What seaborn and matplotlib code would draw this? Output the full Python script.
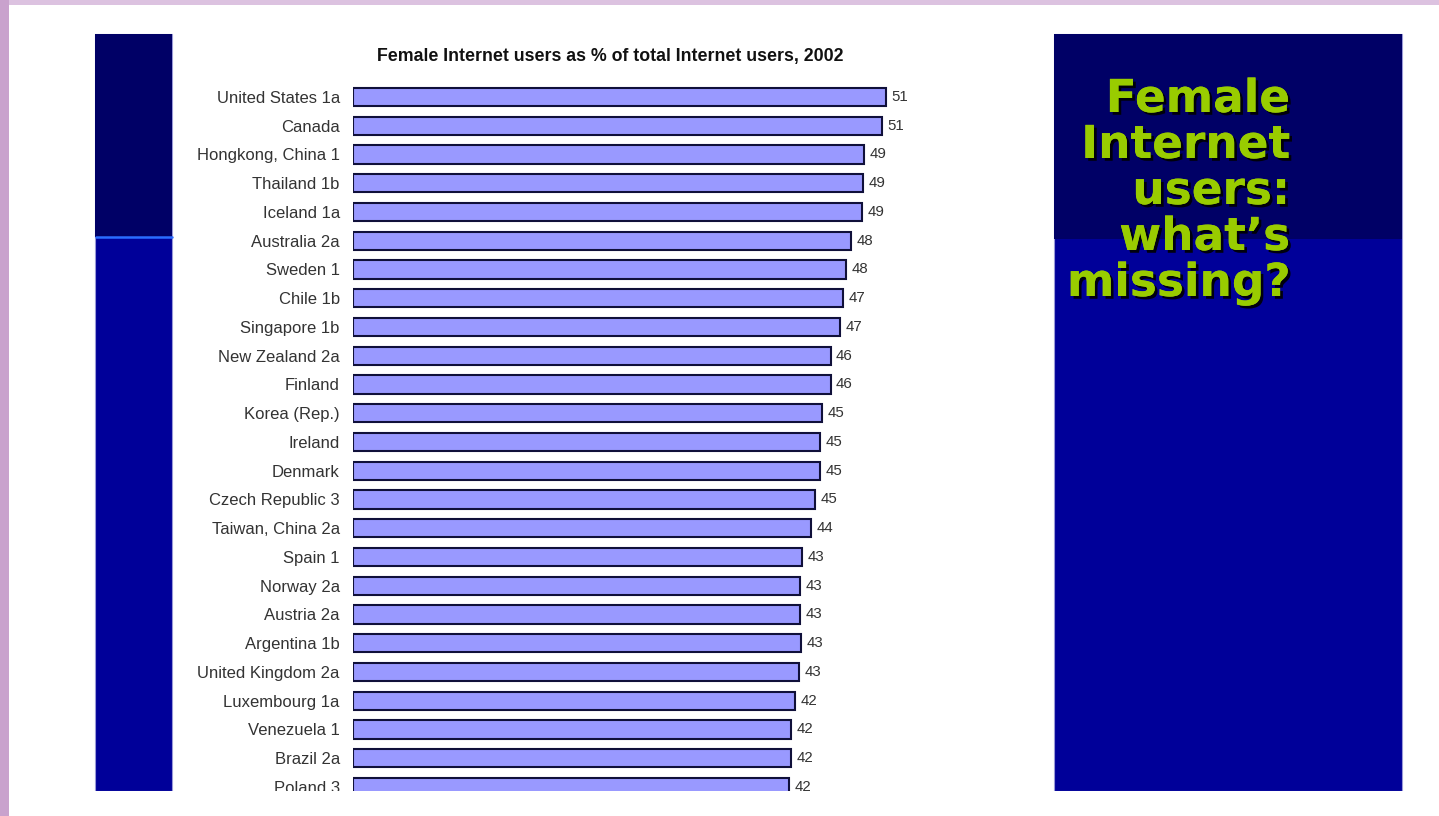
import matplotlib
matplotlib.use("Agg")
import matplotlib.pyplot as plt
import matplotlib.patheffects as pe
from matplotlib.patches import Rectangle
from matplotlib.lines import Line2D
import seaborn as sns
import pandas as pd

countries = ["United States 1a", "Canada", "Hongkong, China 1", "Thailand 1b", "Iceland 1a",
             "Australia 2a", "Sweden 1", "Chile 1b", "Singapore 1b", "New Zealand 2a",
             "Finland", "Korea (Rep.)", "Ireland", "Denmark", "Czech Republic 3",
             "Taiwan, China 2a", "Spain 1", "Norway 2a", "Austria 2a", "Argentina 1b",
             "United Kingdom 2a", "Luxembourg 1a", "Venezuela 1", "Brazil 2a", "Poland 3"]
values = [51.0, 50.6, 48.9, 48.8, 48.7, 47.7, 47.2, 46.9, 46.6, 45.7,
          45.7, 44.9, 44.7, 44.7, 44.2, 43.8, 43.0, 42.8, 42.8, 42.9,
          42.7, 42.3, 41.9, 41.9, 41.7]
value_labels = ["51", "51", "49", "49", "49", "48", "48", "47", "47", "46",
                "46", "45", "45", "45", "45", "44", "43", "43", "43", "43",
                "43", "42", "42", "42", "42"]
chart_title = "Female Internet users as % of total Internet users, 2002"
side_lines = ["Female", "Internet", "users:", "what\u2019s", "missing?"]

W, H = 1439, 816
def fx(x): return x / W
def fy(y): return 1 - y / H

sns.set_theme(style="white")
plt.rcParams['font.family'] = ['Liberation Sans', 'DejaVu Sans']

fig = plt.figure(figsize=(W / 100, H / 100), dpi=100, facecolor="white")

def rect(x0, y0, x1, y1, color, z=1, **kw):
    fig.add_artist(Rectangle((fx(x0), fy(y1)), (x1 - x0) / W, (y1 - y0) / H,
                             transform=fig.transFigure, facecolor=color,
                             edgecolor=kw.get("ec", "none"), lw=kw.get("lw", 0), zorder=z))

# slide decoration
rect(0, 0, W, 5, "#dcc2e0")
rect(0, 0, 9, H, "#c9a2cd")
# left panel
rect(95, 34, 172, 791, "#000099", ec="#9a9ad8", lw=0.8)
rect(95, 34, 172, 237, "#000066")
fig.add_artist(Line2D([fx(96), fx(172)], [fy(237), fy(237)], transform=fig.transFigure,
                      color="#2a6cff", lw=1.8, zorder=2))
# right panel
rect(1054, 34, 1402, 791, "#000099", ec="#9a9ad8", lw=0.8)
rect(1054, 34, 1402, 239, "#000066")

# chart
ax = fig.add_axes([fx(353), fy(791), 700 / W, (791 - 34) / H])
df = pd.DataFrame({"country": countries, "value": values})
sns.barplot(data=df, x="value", y="country", orient="h", color="#9999ff", saturation=1,
            edgecolor="#10103a", linewidth=1.5, width=0.63, ax=ax)
px_per_unit = 10.45
ax.set_xlim(0, 700 / px_per_unit)
ax.set_ylim(24.14, -2.19)
ax.set_facecolor("white")
for s in ax.spines.values():
    s.set_visible(False)
ax.set_xticks([])
ax.set_xlabel("")
ax.set_ylabel("")
ax.tick_params(axis="y", length=0, pad=9.5, labelsize=12, labelcolor="#333333")
ax.bar_label(ax.containers[0], labels=value_labels, padding=4, fontsize=10.8, color="#333333")

fig.text(fx(610), fy(61), chart_title, ha="center", va="baseline", fontsize=12.8,
         fontweight="bold", color="#111111")

# cover clipped bottom
rect(9, 791, W, H, "white", z=10)

# side title
baselines = [112, 158, 204, 250, 296]
for txt, yb in zip(side_lines, baselines):
    fig.text(fx(1290), fy(yb), txt, ha="right", va="baseline", fontsize=32.7,
             fontweight="bold", color="#99cc00", family="DejaVu Sans",
             path_effects=[pe.withSimplePatchShadow(offset=(2, -2), shadow_rgbFace="#000000", alpha=0.9),
                           pe.Normal()])

fig.savefig("out.png", dpi=100, facecolor="white")
